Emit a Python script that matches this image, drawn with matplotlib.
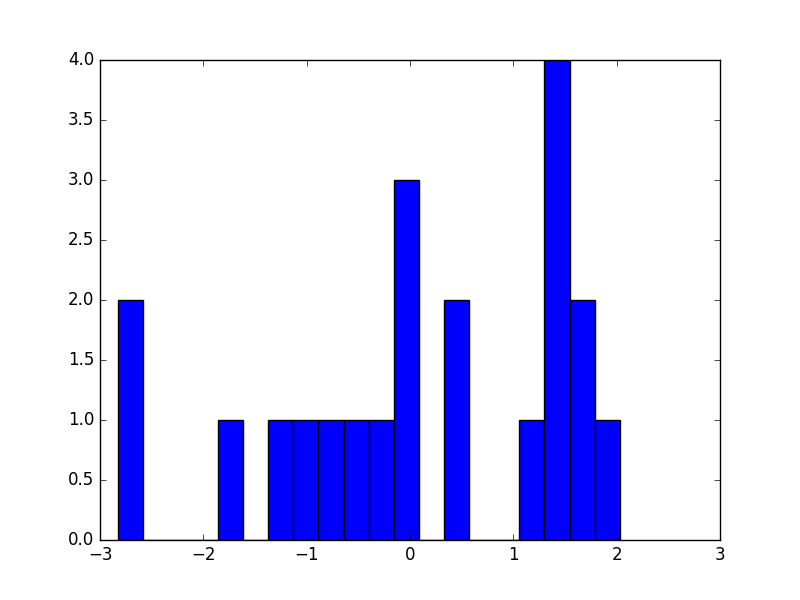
import numpy as np
import matplotlib
matplotlib.use('Agg')
import matplotlib.pyplot as plt

plt.style.use('classic')

# 히스토그램 구간과 도수
edges = np.linspace(-2.83, 2.03, 21)
counts = [2, 0, 0, 0, 1, 0, 1, 1, 1, 1, 1, 3, 0, 2, 0, 0, 1, 4, 2, 1]

centers = (edges[:-1] + edges[1:]) / 2

fig = plt.figure(figsize=(8, 6), dpi=100)
ax = fig.add_subplot(111)
ax.hist(centers, bins=edges, weights=counts, color='#0000ff', edgecolor='black')
ax.set_xlim(-3, 3)
ax.set_ylim(0, 4)
fig.savefig('out.png', dpi=100, facecolor='white')
